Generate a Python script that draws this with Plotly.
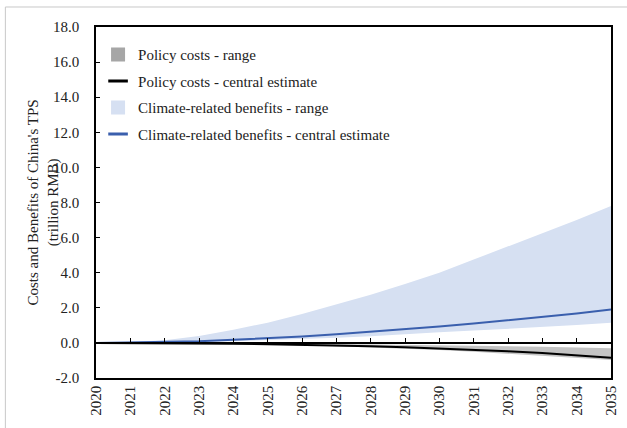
import plotly.graph_objects as go

years = list(range(2020, 2036))
benefit_central = [0, 0.02, 0.05, 0.10, 0.18, 0.27, 0.37, 0.50, 0.63, 0.78, 0.93, 1.10, 1.28, 1.47, 1.68, 1.90]
benefit_high = [0, 0.05, 0.15, 0.40, 0.75, 1.15, 1.65, 2.20, 2.75, 3.35, 4.00, 4.75, 5.50, 6.25, 7.00, 7.80]
benefit_low = [0, 0.01, 0.03, 0.06, 0.10, 0.15, 0.22, 0.30, 0.38, 0.48, 0.60, 0.70, 0.80, 0.90, 1.02, 1.15]
cost_central = [0, -0.005, -0.015, -0.03, -0.05, -0.07, -0.10, -0.14, -0.19, -0.25, -0.32, -0.40, -0.48, -0.58, -0.70, -0.85]
cost_high = [0, 0, -0.005, -0.01, -0.02, -0.03, -0.04, -0.06, -0.08, -0.10, -0.13, -0.16, -0.19, -0.22, -0.26, -0.30]
cost_low = [0, -0.01, -0.02, -0.04, -0.07, -0.10, -0.14, -0.19, -0.25, -0.32, -0.40, -0.50, -0.60, -0.72, -0.85, -0.98]
y_ticks = [-2, 0, 2, 4, 6, 8, 10, 12, 14, 16, 18]
legend_names = ["Policy costs - range", "Policy costs - central estimate",
                "Climate-related benefits - range", "Climate-related benefits - central estimate"]

FONT = "Liberation Serif"
BLUE = "#3A5FAD"
BLUE_FILL = "#D6E0F2"
GRAY_FILL = "#C4C4C4"

fig = go.Figure()

fig.add_trace(go.Scatter(
    x=years + years[::-1], y=benefit_high + benefit_low[::-1],
    fill="toself", fillcolor=BLUE_FILL, line=dict(width=0), mode="lines",
    showlegend=False, hoverinfo="skip"))
fig.add_trace(go.Scatter(
    x=years + years[::-1], y=cost_high + cost_low[::-1],
    fill="toself", fillcolor=GRAY_FILL, line=dict(width=0), mode="lines",
    showlegend=False, hoverinfo="skip"))
fig.add_trace(go.Scatter(
    x=years, y=cost_central, mode="lines", line=dict(color="black", width=2),
    showlegend=False))
fig.add_trace(go.Scatter(
    x=years, y=benefit_central, mode="lines", line=dict(color=BLUE, width=2),
    showlegend=False))

# zero axis with upward ticks
fig.add_trace(go.Scatter(x=[years[0], years[-1]], y=[0, 0], xaxis="x2",
                         mode="lines", line=dict(width=0), showlegend=False, hoverinfo="skip"))

# legend entries
legend_markers = [
    dict(symbol="square", size=14, color="#A6A6A6", line=dict(width=0)),
    dict(symbol="line-ew", size=14, color="black", line=dict(width=3, color="black")),
    dict(symbol="square", size=14, color=BLUE_FILL, line=dict(width=0)),
    dict(symbol="line-ew", size=14, color=BLUE, line=dict(width=3, color=BLUE)),
]
for i, (nm, mk) in enumerate(zip(legend_names, legend_markers)):
    fig.add_trace(go.Scatter(x=[None], y=[None], mode="markers", marker=mk, name=nm,
                             legendgroup=f"g{i}", legendrank=i + 1))

fig.update_layout(
    width=627, height=428,
    margin=dict(l=96, r=8, t=27, b=50),
    paper_bgcolor="white", plot_bgcolor="white",
    font=dict(family=FONT, size=15, color="#222"),
    showlegend=True,
    legend=dict(x=0.004, y=0.968, xanchor="left", yanchor="top",
                font=dict(family=FONT, size=15, color="#222"),
                itemwidth=30, tracegroupgap=4, bgcolor="rgba(0,0,0,0)"),
    xaxis=dict(range=[2020, 2035], tickmode="array", tickvals=years,
               ticktext=[str(y) for y in years], tickangle=-90,
               showgrid=False, zeroline=False, showline=True, linecolor="black",
               linewidth=1.5, mirror=True, ticks="", tickfont=dict(size=15)),
    xaxis2=dict(range=[2020, 2035], overlaying="x", anchor="free", position=0.1,
                side="bottom", tickmode="array", tickvals=years, ticks="inside",
                ticklen=4, tickcolor="black", tickwidth=1.2, showticklabels=False,
                showline=True, linecolor="black", linewidth=1.5, showgrid=False,
                zeroline=False),
    yaxis=dict(range=[-2, 18], tickmode="array", tickvals=y_ticks,
               ticktext=[f"{v:.1f}" for v in y_ticks], ticks="inside", ticklen=4,
               tickcolor="black", showgrid=False, zeroline=False, showline=True,
               linecolor="black", linewidth=1.5, mirror=True, tickfont=dict(size=15),
               ticklabelstandoff=12),
    annotations=[dict(text="Costs and Benefits of China's TPS<br>(trillion RMB)",
                      xref="paper", yref="paper", x=-0.101, y=0.5, textangle=-90,
                      xanchor="center", yanchor="middle",
                      showarrow=False, font=dict(family=FONT, size=15, color="#222"))],
    shapes=[
        dict(type="line", xref="paper", yref="paper", x0=-0.176, x1=1.1, y0=1.057, y1=1.057,
             line=dict(color="#C8C8C8", width=1)),
        dict(type="line", xref="paper", yref="paper", x0=-0.176, x1=-0.176, y0=1.057, y1=-0.2,
             line=dict(color="#C8C8C8", width=1)),
    ],
)

fig.write_html("out.html")
